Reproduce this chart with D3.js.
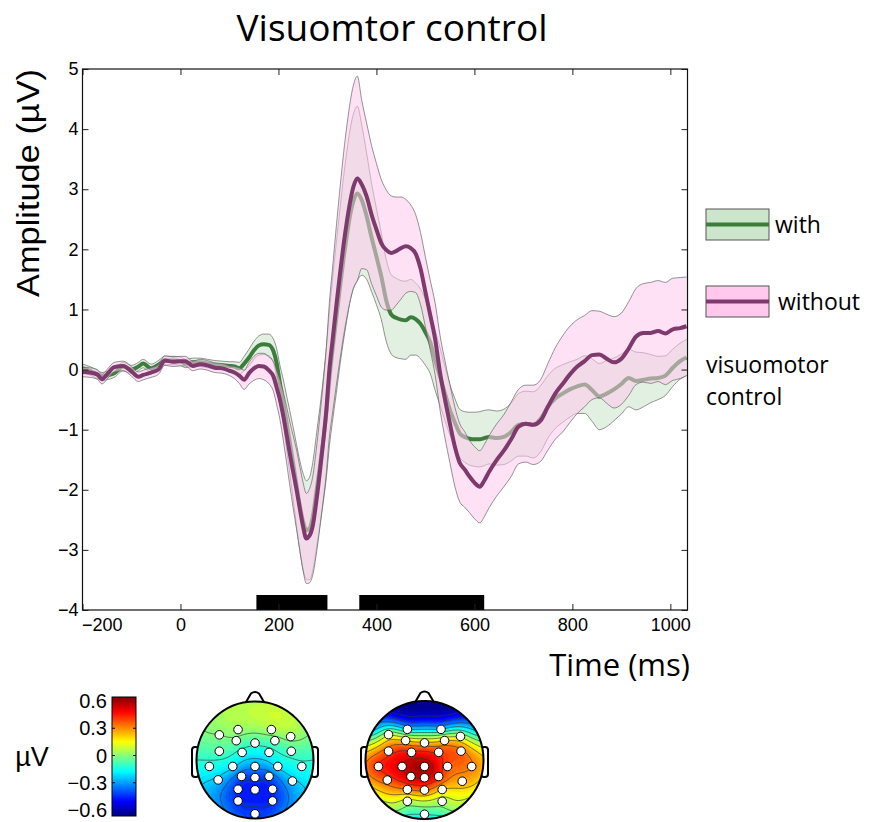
<!DOCTYPE html>
<html><head><meta charset="utf-8">
<script src="https://cdn.jsdelivr.net/npm/d3@7"></script>
<style>body{margin:0;background:#fff} svg{display:block}</style>
</head><body>
<svg id="chart" width="872" height="822"></svg>
<script>
// ---------------- DATA ----------------
const titleText = "Visuomtor control";
const xLabel = "Time (ms)";
const yLabel = "Amplitude (\u00B5V)";
const legendLabels = ["with", "without"];
const legendTitle = ["visuomotor", "control"];

const times = [-200,-185,-170,-160,-150,-135,-117,-100,-86,-76,
  -60,-45,-32,-15,0,10,25,40,55,70,
  85,100,110,120,130,140,150,160,170,180,
  190,196,203,210,217,223,230,237,244,250,
  257,263,270,278,288,298,304,310,318,326,
  333,340,347,353,361,370,380,390,400,410,
  420,430,440,450,460,470,480,490,500,510,
  520,530,540,550,560,570,580,590,600,611,
  620,630,645,660,675,690,705,720,735,750,
  765,780,795,810,825,840,855,870,885,900,
  915,930,945,960,975,990,1005,1020,1033];

const withoutMean = [-0.04,-0.05,-0.08,-0.16,-0.08,0.04,0.06,-0.03,-0.12,-0.09,
  -0.05,0.0,0.15,0.13,0.14,0.14,0.06,0.09,0.07,0.03,
  0.02,-0.02,-0.05,-0.1,-0.17,-0.06,0.02,0.06,0.05,-0.01,
  -0.12,-0.29,-0.5,-0.78,-1.1,-1.39,-1.7,-2.0,-2.33,-2.6,
  -2.81,-2.77,-2.6,-2.15,-1.45,-0.65,0.0,0.45,1.05,1.62,
  2.08,2.48,2.82,3.04,3.18,3.08,2.88,2.58,2.33,2.1,
  1.99,1.94,1.97,2.02,2.05,2.02,1.93,1.68,1.29,0.9,
  0.5,-0.06,-0.5,-0.9,-1.28,-1.55,-1.66,-1.78,-1.88,-1.95,
  -1.85,-1.7,-1.51,-1.35,-1.16,-0.95,-0.9,-0.92,-0.85,-0.62,
  -0.4,-0.24,-0.08,0.05,0.14,0.24,0.25,0.18,0.12,0.18,
  0.35,0.55,0.61,0.61,0.64,0.6,0.67,0.69,0.72];

const withoutSE = [0.08,0.08,0.08,0.08,0.08,0.08,0.08,0.08,0.08,0.08,
  0.08,0.08,0.08,0.08,0.08,0.08,0.08,0.08,0.08,0.08,
  0.08,0.08,0.1,0.13,0.16,0.18,0.2,0.21,0.22,0.22,
  0.25,0.28,0.33,0.4,0.47,0.53,0.6,0.66,0.7,0.73,
  0.75,0.78,0.82,0.88,0.95,1.05,1.12,1.2,1.32,1.43,
  1.52,1.6,1.66,1.69,1.7,1.4,1.22,1.15,1.1,1.06,
  1.0,0.95,0.9,0.85,0.78,0.72,0.65,0.6,0.58,0.58,
  0.6,0.62,0.64,0.65,0.66,0.65,0.63,0.6,0.6,0.6,
  0.6,0.6,0.6,0.6,0.62,0.62,0.64,0.66,0.68,0.72,
  0.76,0.8,0.8,0.78,0.76,0.74,0.72,0.74,0.76,0.76,
  0.78,0.8,0.82,0.84,0.84,0.85,0.85,0.84,0.82];

const withMean = [0.02,-0.02,-0.08,-0.12,-0.1,-0.06,0.05,0.0,0.05,0.1,
  0.02,0.08,0.15,0.15,0.14,0.1,0.12,0.12,0.1,0.08,
  0.07,0.06,0.05,0.02,0.1,0.2,0.32,0.4,0.42,0.41,
  0.3,0.12,-0.23,-0.55,-0.9,-1.2,-1.56,-1.93,-2.28,-2.52,
  -2.67,-2.65,-2.45,-2.0,-1.4,-0.7,-0.15,0.3,0.85,1.4,
  1.85,2.25,2.6,2.8,2.93,2.82,2.55,2.2,1.88,1.55,
  1.15,0.92,0.86,0.83,0.82,0.87,0.84,0.76,0.62,0.45,
  0.15,-0.12,-0.4,-0.67,-0.88,-1.06,-1.12,-1.15,-1.16,-1.16,
  -1.14,-1.12,-1.14,-1.12,-1.04,-0.92,-0.9,-0.92,-0.82,-0.62,
  -0.48,-0.4,-0.33,-0.28,-0.25,-0.34,-0.45,-0.4,-0.33,-0.24,
  -0.14,-0.19,-0.17,-0.15,-0.14,-0.1,0.03,0.14,0.2];

const withSE = [0.07,0.07,0.07,0.07,0.07,0.07,0.07,0.07,0.07,0.07,
  0.07,0.07,0.07,0.07,0.07,0.07,0.07,0.07,0.07,0.07,
  0.07,0.07,0.08,0.1,0.12,0.14,0.15,0.16,0.17,0.18,
  0.2,0.24,0.3,0.38,0.45,0.52,0.6,0.68,0.75,0.8,
  0.82,0.85,0.9,0.95,1.0,1.08,1.12,1.18,1.25,1.3,
  1.36,1.4,1.43,1.45,1.45,1.25,1.05,0.9,0.8,0.72,
  0.68,0.66,0.66,0.65,0.65,0.63,0.6,0.58,0.55,0.52,
  0.5,0.48,0.45,0.42,0.4,0.4,0.42,0.44,0.45,0.46,
  0.46,0.45,0.45,0.46,0.48,0.52,0.54,0.55,0.55,0.52,
  0.5,0.48,0.46,0.45,0.48,0.52,0.55,0.55,0.52,0.5,
  0.48,0.48,0.45,0.4,0.36,0.33,0.31,0.3,0.3];

const sigStart = [155, 365];
const sigEnd = [300, 620];

const xTicks = [-200, 0, 200, 400, 600, 800, 1000];
const yTicks = [-4, -3, -2, -1, 0, 1, 2, 3, 4, 5];

// topographic maps: electrode positions (head-radius units, +y = posterior)
const electrodeX = [-0.61,-0.29,0.28,0.61,-0.32,0.0,0.34,-0.61,-0.22,0.24,0.62,-0.78,-0.38,0.0,0.39,0.80,-0.63,-0.23,0.0,0.24,0.64,-0.29,0.0,0.30,-0.29,0.30,0.0];
const electrodeY = [-0.43,-0.52,-0.52,-0.40,-0.33,-0.29,-0.33,-0.15,-0.13,-0.13,-0.15,0.11,0.11,0.11,0.11,0.11,0.34,0.28,0.30,0.28,0.36,0.50,0.51,0.50,0.70,0.70,0.92];
const topoValues1 = [0.0,0.03,0.05,0.03,-0.02,-0.08,-0.04,-0.06,-0.13,-0.13,-0.07,-0.13,-0.18,-0.27,-0.18,-0.12,-0.22,-0.36,-0.38,-0.36,-0.22,-0.4,-0.42,-0.4,-0.4,-0.4,-0.38];
const topoValues2 = [0.08,-0.2,-0.2,0.08,0.2,0.22,0.2,0.35,0.42,0.38,0.32,0.4,0.5,0.55,0.35,0.3,0.35,0.5,0.5,0.42,0.25,0.3,0.32,0.2,0.06,0.05,-0.1];
const rimAngles = [0,30,60,90,120,150,180,210,240,270,300,330];
const rimValues1 = [0.06,0.08,0.02,-0.1,-0.2,-0.3,-0.38,-0.3,-0.22,-0.1,0.0,0.05];
const rimValues2 = [-0.58,-0.55,-0.2,0.22,0.15,0.0,-0.15,0.0,0.18,0.28,-0.2,-0.55];
const colorbarTicks = [0.6, 0.3, 0, -0.3, -0.6];
const colorbarUnit = "\u00B5V";

// ---------------- DRAWING ----------------
const ARIAL = "'Liberation Sans', Arial, sans-serif";
const MYRIAD = "'Open Sans', 'Noto Sans', sans-serif";
const C_GREEN = "#3b7d3b", C_PURPLE = "#7e3a6c";
const svg = d3.select("#chart");
const defs = svg.append("defs");

svg.append("text").attr("x", 392).attr("y", 41).attr("text-anchor", "middle")
  .attr("font-family", MYRIAD).attr("font-size", 37).attr("fill", "#000").text(titleText);

const x = d3.scaleLinear().domain([-200, 1035]).range([82.5, 687.5]);
const y = d3.scaleLinear().domain([-4, 5]).range([610, 69]);

defs.append("clipPath").attr("id", "plotclip").append("rect")
  .attr("x", x.range()[0]).attr("y", y.range()[1])
  .attr("width", x.range()[1] - x.range()[0]).attr("height", y.range()[0] - y.range()[1]);

const idx = d3.range(times.length);
const plot = svg.append("g").attr("clip-path", "url(#plotclip)");

function band(mean, se) {
  return d3.area().x(i => x(times[i])).y0(i => y(mean[i] - se[i])).y1(i => y(mean[i] + se[i])).curve(d3.curveMonotoneX);
}
function edge(mean, se, s) {
  return d3.line().x(i => x(times[i])).y(i => y(mean[i] + s * se[i])).curve(d3.curveMonotoneX);
}
function meanLine(mean) {
  return d3.line().x(i => x(times[i])).y(i => y(mean[i])).curve(d3.curveMonotoneX);
}

// with (green)
plot.append("path").attr("d", band(withMean, withSE)(idx)).attr("fill", "#e2f0e2");
[1, -1].forEach(s => plot.append("path").attr("d", edge(withMean, withSE, s)(idx))
  .attr("fill", "none").attr("stroke", "#666").attr("stroke-width", 0.7));
plot.append("path").attr("d", meanLine(withMean)(idx)).attr("fill", "none")
  .attr("stroke", C_GREEN).attr("stroke-width", 4).attr("stroke-linejoin", "round");

// without (pink / purple)
plot.append("path").attr("d", band(withoutMean, withoutSE)(idx)).attr("fill", "#ffc8ec").attr("fill-opacity", 0.55);
[1, -1].forEach(s => plot.append("path").attr("d", edge(withoutMean, withoutSE, s)(idx))
  .attr("fill", "none").attr("stroke", "#666").attr("stroke-width", 0.7));
plot.append("path").attr("d", meanLine(withoutMean)(idx)).attr("fill", "none")
  .attr("stroke", C_PURPLE).attr("stroke-width", 4).attr("stroke-linejoin", "round");

// significance bars
sigStart.forEach((s, k) => {
  svg.append("rect").attr("x", x(s)).attr("width", x(sigEnd[k]) - x(s))
    .attr("y", y(-4) - 15).attr("height", 15).attr("fill", "#000");
});

// axes
function styleAxis(g) {
  g.select(".domain").remove();
  g.selectAll(".tick line").attr("stroke", "#222");
  g.selectAll(".tick text").attr("font-family", ARIAL).attr("font-size", 18).attr("fill", "#000");
}
svg.append("g").attr("transform", `translate(0,${y(-4)})`)
  .call(d3.axisBottom(x).tickValues(xTicks).tickSize(-6).tickPadding(8).tickFormat(d3.format("d")))
  .call(styleAxis)
  .call(g => g.selectAll(".tick text").filter(d => d === -200).attr("text-anchor", "start").attr("x", -1));
svg.append("g").attr("transform", `translate(0,${y(5)})`)
  .call(d3.axisTop(x).tickValues(xTicks).tickSize(-6).tickFormat(""))
  .call(styleAxis);
svg.append("g").attr("transform", `translate(${x(-200)},0)`)
  .call(d3.axisLeft(y).tickValues(yTicks).tickSize(-6).tickPadding(4).tickFormat(d3.format("d")))
  .call(styleAxis);
svg.append("g").attr("transform", `translate(${x(1035)},0)`)
  .call(d3.axisRight(y).tickValues(yTicks).tickSize(-6).tickFormat(""))
  .call(styleAxis);
svg.append("rect").attr("x", x(-200)).attr("y", y(5))
  .attr("width", x(1035) - x(-200)).attr("height", y(-4) - y(5))
  .attr("fill", "none").attr("stroke", "#111").attr("stroke-width", 1.2);

// axis labels
svg.append("text").attr("transform", "translate(39,183) rotate(-90)").attr("text-anchor", "middle")
  .attr("font-family", ARIAL).attr("font-size", 32).attr("textLength", 228).attr("lengthAdjust", "spacingAndGlyphs")
  .text(yLabel);
svg.append("text").attr("x", 690).attr("y", 676).attr("text-anchor", "end")
  .attr("font-family", MYRIAD).attr("font-size", 31).text(xLabel);

// legend
const legFill = ["#cce6cc", "#ffc8ec"], legLine = [C_GREEN, C_PURPLE];
const legY = [209, 286], legTextX = [775, 778], legTextY = [233, 310];
legendLabels.forEach((lab, k) => {
  svg.append("rect").attr("x", 706).attr("y", legY[k]).attr("width", 63).attr("height", 31)
    .attr("fill", legFill[k]).attr("stroke", "#555").attr("stroke-width", 1);
  svg.append("line").attr("x1", 706).attr("x2", 769).attr("y1", legY[k] + 15.5).attr("y2", legY[k] + 15.5)
    .attr("stroke", legLine[k]).attr("stroke-width", 4);
  svg.append("text").attr("x", legTextX[k]).attr("y", legTextY[k]).attr("font-family", MYRIAD)
    .attr("font-size", 23).text(lab);
});
legendTitle.forEach((t, k) => svg.append("text").attr("x", 706).attr("y", 373 + k * 32)
  .attr("font-family", MYRIAD).attr("font-size", 23).text(t));

// ---------------- colour map / colour bar ----------------
function jet(p) {
  const c = v => Math.max(0, Math.min(1, v));
  const r = c(1.5 - Math.abs(4 * p - 3)), g = c(1.5 - Math.abs(4 * p - 2)), b = c(1.5 - Math.abs(4 * p - 1));
  return d3.rgb(r * 255, g * 255, b * 255).toString();
}
const color = d3.scaleSequential(jet).domain([-0.6, 0.6]).clamp(true);

const grad = defs.append("linearGradient").attr("id", "jetgrad").attr("x1", 0).attr("y1", 1).attr("x2", 0).attr("y2", 0);
d3.range(0, 1.0001, 0.02).forEach(p => grad.append("stop").attr("offset", p).attr("stop-color", jet(p)));
svg.append("rect").attr("x", 112).attr("y", 697).attr("width", 24).attr("height", 119)
  .attr("fill", "url(#jetgrad)").attr("stroke", "#000").attr("stroke-width", 1);
const cb = d3.scaleLinear().domain([-0.6, 0.6]).range([810, 701]);
colorbarTicks.forEach(t => {
  svg.append("text").attr("x", 107).attr("y", cb(t)).attr("dy", "0.35em").attr("text-anchor", "end")
    .attr("font-family", ARIAL).attr("font-size", 20).text(d3.format("")(t));
  if (Math.abs(t) < 0.5) {
    svg.append("line").attr("x1", 112).attr("x2", 115).attr("y1", cb(t)).attr("y2", cb(t)).attr("stroke", "#000");
    svg.append("line").attr("x1", 133).attr("x2", 136).attr("y1", cb(t)).attr("y2", cb(t)).attr("stroke", "#000");
  }
});
svg.append("text").attr("x", 32).attr("y", 757).attr("dy", "0.35em").attr("text-anchor", "middle")
  .attr("font-family", ARIAL).attr("font-size", 27).text(colorbarUnit);

// ---------------- topographic maps ----------------
function solve(A, b) {
  const n = b.length;
  for (let k = 0; k < n; k++) {
    let p = k;
    for (let i = k + 1; i < n; i++) if (Math.abs(A[i][k]) > Math.abs(A[p][k])) p = i;
    [A[k], A[p]] = [A[p], A[k]]; [b[k], b[p]] = [b[p], b[k]];
    for (let i = k + 1; i < n; i++) {
      const f = A[i][k] / A[k][k];
      for (let j = k; j < n; j++) A[i][j] -= f * A[k][j];
      b[i] -= f * b[k];
    }
  }
  const w = new Array(n).fill(0);
  for (let i = n - 1; i >= 0; i--) {
    let s = b[i];
    for (let j = i + 1; j < n; j++) s -= A[i][j] * w[j];
    w[i] = s / A[i][i];
  }
  return w;
}
function biharmonic(px, py, v) {
  const g = r => r < 1e-9 ? 0 : r * r * (Math.log(r) - 1);
  const n = px.length;
  const A = px.map((_, i) => px.map((__, j) => g(Math.hypot(px[i] - px[j], py[i] - py[j]))));
  const w = solve(A, v.slice());
  return (xx, yy) => { let s = 0; for (let i = 0; i < n; i++) s += w[i] * g(Math.hypot(xx - px[i], yy - py[i])); return s; };
}

function drawTopo(cx, cy, r, vals, rimVals, id) {
  const g = svg.append("g");
  [-1, 1].forEach(s => {
    g.append("rect").attr("x", s < 0 ? cx - r - 4.5 : cx + r - 2.5).attr("y", cy - 13)
      .attr("width", 7).attr("height", 30).attr("rx", 3)
      .attr("fill", "#fff").attr("stroke", "#000").attr("stroke-width", 2);
  });
  g.append("path").attr("d", `M${cx - 11},${cy - r + 4} L${cx - 4},${cy - r - 8} Q${cx},${cy - r - 11} ${cx + 4},${cy - r - 8} L${cx + 11},${cy - r + 4} Z`)
    .attr("fill", "#fff").attr("stroke", "#000").attr("stroke-width", 2);

  const px = electrodeX.concat(rimAngles.map(a => Math.sin(a * Math.PI / 180)));
  const py = electrodeY.concat(rimAngles.map(a => -Math.cos(a * Math.PI / 180)));
  const f = biharmonic(px, py, vals.concat(rimVals));
  const N = 85, lo = -1.05, step = 2.1 / (N - 1);
  const grid = new Array(N * N);
  for (let j = 0; j < N; j++) for (let i = 0; i < N; i++) grid[i + j * N] = f(lo + i * step, lo + j * step);
  const proj = d3.geoTransform({ point(gx, gy) { this.stream.point(cx + (lo + (gx - 0.5) * step) * r, cy + (lo + (gy - 0.5) * step) * r); } });
  const path = d3.geoPath(proj);

  defs.append("clipPath").attr("id", id).append("circle").attr("cx", cx).attr("cy", cy).attr("r", r);
  const m = g.append("g").attr("clip-path", `url(#${id})`);
  m.append("circle").attr("cx", cx).attr("cy", cy).attr("r", r).attr("fill", color(-0.7));
  const fillLevels = d3.range(-0.69, 0.7, 0.02);
  d3.contours().size([N, N]).thresholds(fillLevels)(grid).forEach(c => {
    m.append("path").attr("d", path(c)).attr("fill", color(c.value + 0.01)).attr("stroke", color(c.value + 0.01)).attr("stroke-width", 0.3);
  });
  const lineLevels = d3.range(-0.5, 0.51, 0.1);
  d3.contours().size([N, N]).thresholds(lineLevels)(grid).forEach(c => {
    m.append("path").attr("d", path(c)).attr("fill", "none").attr("stroke", "#333").attr("stroke-width", 0.8).attr("stroke-opacity", 0.8);
  });
  g.append("circle").attr("cx", cx).attr("cy", cy).attr("r", r).attr("fill", "none").attr("stroke", "#000").attr("stroke-width", 2);
  electrodeX.forEach((ex, k) => {
    g.append("circle").attr("cx", cx + ex * r).attr("cy", cy + electrodeY[k] * r).attr("r", 4.3)
      .attr("fill", "#fff").attr("stroke", "#000").attr("stroke-width", 1);
  });
}
drawTopo(255, 760, 58.5, topoValues1, rimValues1, "topo1");
drawTopo(424.5, 760, 59, topoValues2, rimValues2, "topo2");
</script>
</body></html>
